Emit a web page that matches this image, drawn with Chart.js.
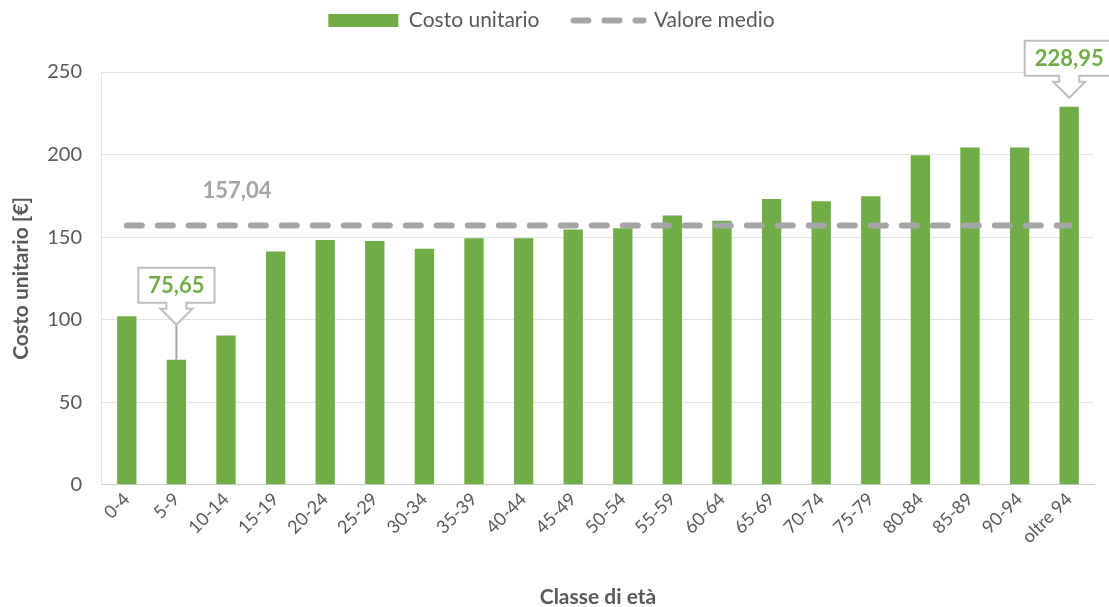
<!DOCTYPE html>
<html>
<head>
<meta charset="utf-8">
<script src="https://cdn.jsdelivr.net/npm/chart.js@4.4.1/dist/chart.umd.min.js"></script>
<style>
  html, body { margin: 0; padding: 0; background: #fff; }
  #wrap { width: 1109px; height: 607px; }
</style>
</head>
<body>
<div id="wrap"><canvas id="chart"></canvas></div>
<script>
const categories = ['0-4', '5-9', '10-14', '15-19', '20-24', '25-29', '30-34', '35-39', '40-44', '45-49',
  '50-54', '55-59', '60-64', '65-69', '70-74', '75-79', '80-84', '85-89', '90-94', 'oltre 94'];
const costoUnitario = [102.0, 75.65, 90.3, 141.3, 148.2, 147.6, 142.9, 149.2, 149.2, 154.5,
  155.3, 163.0, 159.9, 173.1, 171.7, 174.7, 199.6, 204.3, 204.3, 228.95];
const valoreMedio = 157.04;
const yTicks = [0, 50, 100, 150, 200, 250];
const seriesNames = ['Costo unitario', 'Valore medio'];
const xTitle = 'Classe di età';
const yTitle = 'Costo unitario [€]';

const GREEN = '#70AD47';
const GREY_DASH = '#A5A5A5';
const TEXT = '#595959';
const FONT = 'Lato, "Open Sans", sans-serif';

const fmt = v => v.toFixed(2).replace('.', ',');

// extra room between legend and plot
const legendGap = {
  id: 'legendGap',
  afterInit(chart) {
    const fit = chart.legend.fit;
    chart.legend.fit = function () {
      fit.call(this);
      this.height += 31;
    };
  }
};

// callout boxes on min / max bar + label over the mean line
const calloutPlugin = {
  id: 'callouts',
  afterDatasetsDraw(chart) {
    const ctx = chart.ctx;
    const bars = chart.getDatasetMeta(0).data;
    const minI = costoUnitario.indexOf(Math.min(...costoUnitario));
    const maxI = costoUnitario.indexOf(Math.max(...costoUnitario));
    ctx.save();
    ctx.font = 'bold 22px ' + FONT;

    // [index, distance from bar top to box bottom]
    [[minI, 57], [maxI, 31]].forEach(([i, rise]) => {
      const bar = bars[i];
      const txt = fmt(costoUnitario[i]);
      const cx = bar.x, top = bar.y;
      const w = ctx.measureText(txt).width + 20, h = 35;
      const bottom = top - rise, tip = bottom + 22;
      const l = cx - w / 2, r = cx + w / 2, t = bottom - h;

      if (top - tip > 15) {
        ctx.strokeStyle = '#A6A6A6';
        ctx.lineWidth = 2;
        ctx.beginPath();
        ctx.moveTo(cx, tip);
        ctx.lineTo(cx, top);
        ctx.stroke();
      }

      ctx.beginPath();
      ctx.moveTo(l, t);
      ctx.lineTo(r, t);
      ctx.lineTo(r, bottom);
      ctx.lineTo(cx + 10, bottom);
      ctx.lineTo(cx + 10, bottom + 6);
      ctx.lineTo(cx + 16, bottom + 6);
      ctx.lineTo(cx, tip);
      ctx.lineTo(cx - 16, bottom + 6);
      ctx.lineTo(cx - 10, bottom + 6);
      ctx.lineTo(cx - 10, bottom);
      ctx.lineTo(l, bottom);
      ctx.closePath();
      ctx.fillStyle = '#fff';
      ctx.fill();
      ctx.strokeStyle = '#BFBFBF';
      ctx.lineWidth = 2;
      ctx.stroke();

      ctx.fillStyle = GREEN;
      ctx.textAlign = 'center';
      ctx.textBaseline = 'middle';
      ctx.fillText(txt, cx, t + h / 2 + 1);
    });

    const xs = chart.scales.x, ys = chart.scales.y;
    ctx.fillStyle = GREY_DASH;
    ctx.textAlign = 'center';
    ctx.textBaseline = 'middle';
    ctx.fillText(fmt(valoreMedio), xs.getPixelForValue(2) + 11, ys.getPixelForValue(valoreMedio) - 35);
    ctx.restore();
  }
};

new Chart(document.getElementById('chart'), {
  type: 'bar',
  data: {
    labels: categories,
    datasets: [
      {
        label: seriesNames[0],
        data: costoUnitario,
        backgroundColor: GREEN,
        barPercentage: 0.39,
        categoryPercentage: 1,
        order: 2
      },
      {
        type: 'line',
        label: seriesNames[1],
        data: categories.map(() => valoreMedio),
        borderColor: GREY_DASH,
        borderWidth: 6,
        borderDash: [15, 16],
        borderCapStyle: 'round',
        pointRadius: 0,
        fill: false,
        order: 1
      }
    ]
  },
  options: {
    responsive: true,
    maintainAspectRatio: false,
    animation: false,
    layout: { padding: { top: -24, left: 9, right: 15, bottom: -3 } },
    plugins: {
      tooltip: { enabled: false },
      legend: {
        position: 'top',
        labels: {
          usePointStyle: true,
          pointStyleWidth: 70,
          boxHeight: 13,
          padding: 34,
          color: TEXT,
          font: { family: FONT, size: 21 },
          generateLabels: () => [
            { text: seriesNames[0], fillStyle: GREEN, strokeStyle: GREEN, lineWidth: 0,
              pointStyle: 'rect', fontColor: TEXT, datasetIndex: 0 },
            { text: seriesNames[1], fillStyle: 'rgba(0,0,0,0)', strokeStyle: GREY_DASH, lineWidth: 6,
              lineDash: [15, 16], lineCap: 'round', pointStyle: 'line', fontColor: TEXT, datasetIndex: 1 }
          ]
        }
      }
    },
    scales: {
      x: {
        grid: { display: false, drawTicks: false },
        border: { color: '#D0D0D0' },
        ticks: {
          color: TEXT,
          font: { family: FONT, size: 18 },
          minRotation: 45,
          maxRotation: 45,
          autoSkip: false,
          padding: 4
        },
        title: {
          display: true,
          text: xTitle,
          color: TEXT,
          font: { family: FONT, size: 21, weight: 'bold' },
          padding: { top: 33, bottom: 0 }
        }
      },
      y: {
        min: 0,
        max: 250,
        afterBuildTicks: axis => { axis.ticks = yTicks.map(v => ({ value: v })); },
        grid: { color: '#E3E3E3', drawTicks: false },
        border: { color: '#E3E3E3' },
        ticks: {
          color: TEXT,
          font: { family: FONT, size: 20 },
          padding: 20
        },
        title: {
          display: true,
          text: yTitle,
          color: TEXT,
          font: { family: FONT, size: 21, weight: 'bold' },
          padding: { top: 0, bottom: -7 }
        }
      }
    }
  },
  plugins: [legendGap, calloutPlugin]
});
</script>
</body>
</html>
